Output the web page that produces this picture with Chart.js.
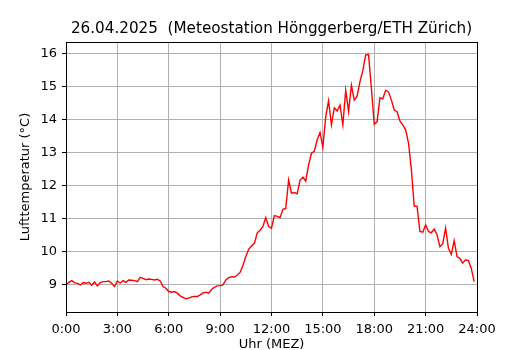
<!DOCTYPE html>
<html>
<head>
<meta charset="utf-8">
<script src="https://cdn.jsdelivr.net/npm/chart.js@4/dist/chart.umd.min.js"></script>
<style>
  body { margin: 0; background: #fff; }
  canvas { display: block; }
</style>
</head>
<body>
<canvas id="chart" width="530" height="350"></canvas>
<script>
// Temperatur alle 10 Minuten, 0:00 bis 23:50
const temps = [
  9.00, 9.08, 9.13, 9.07, 9.05, 9.00, 9.07, 9.05, 9.08, 8.99, 9.09, 8.97, 9.07, 9.10, 9.10, 9.12, 9.05, 8.95,
  9.12, 9.06, 9.13, 9.08, 9.15, 9.14, 9.13, 9.10, 9.23, 9.20, 9.16, 9.18, 9.17, 9.15, 9.17, 9.12, 8.95, 8.90,
  8.80, 8.78, 8.80, 8.75, 8.67, 8.62, 8.58, 8.60, 8.64, 8.65, 8.65, 8.70, 8.76, 8.78, 8.75, 8.86, 8.93, 8.97,
  8.98, 9.00, 9.15, 9.22, 9.25, 9.24, 9.30, 9.38, 9.60, 9.86, 10.08, 10.18, 10.26, 10.58, 10.66, 10.77, 11.04, 10.77,
  10.72, 11.10, 11.08, 11.04, 11.29, 11.32, 12.18, 11.78, 11.80, 11.76, 12.18, 12.26, 12.15, 12.64, 12.99, 13.05, 13.39, 13.62,
  13.17, 14.10, 14.58, 13.85, 14.37, 14.27, 14.45, 13.85, 14.90, 14.25, 15.05, 14.60, 14.72, 15.16, 15.50, 15.97, 15.98, 14.96,
  13.87, 13.95, 14.67, 14.64, 14.90, 14.85, 14.60, 14.30, 14.25, 13.97, 13.85, 13.70, 13.30, 12.50, 11.39, 11.38, 10.62, 10.60,
  10.82, 10.62, 10.58, 10.69, 10.52, 10.16, 10.25, 10.72, 10.11, 9.93, 10.34, 9.86, 9.80, 9.66, 9.76, 9.74, 9.50, 9.10
];
const xTicks = [0, 3, 6, 9, 12, 15, 18, 21, 24];
const yTicks = [9, 10, 11, 12, 13, 14, 15, 16];
const titleText = '26.04.2025  (Meteostation Hönggerberg/ETH Zürich)';
const xTitle = 'Uhr (MEZ)';
const yTitle = 'Lufttemperatur (°C)';

const points = temps.map((t, i) => ({ x: i / 6, y: t }));
const font = { family: 'DejaVu Sans', size: 13 };

// schwarzer Rahmen um die Plotfläche
const frame = {
  id: 'frame',
  afterDraw(c) {
    const a = c.chartArea;
    const ctx = c.ctx;
    ctx.save();
    ctx.strokeStyle = '#000';
    ctx.lineWidth = 1;
    ctx.strokeRect(Math.round(a.left) + 0.5, Math.round(a.top) + 0.5,
      Math.round(a.right - a.left), Math.round(a.bottom - a.top));
    ctx.restore();
  }
};

new Chart(document.getElementById('chart'), {
  type: 'line',
  data: {
    datasets: [{
      data: points,
      borderColor: '#ff0000',
      borderWidth: 1.4,
      pointRadius: 0,
      tension: 0
    }]
  },
  options: {
    responsive: false,
    animation: false,
    layout: { padding: { left: 0, right: 53, top: 0, bottom: 0 } },
    plugins: {
      legend: { display: false },
      tooltip: { enabled: false },
      title: {
        display: true,
        text: titleText,
        color: '#000',
        fullSize: false,
        font: { family: 'DejaVu Sans', size: 15.2, weight: 'normal' },
        padding: { top: 19.5, bottom: 4.3 }
      }
    },
    scales: {
      x: {
        type: 'linear',
        min: 0,
        max: 24,
        afterBuildTicks: s => { s.ticks = xTicks.map(v => ({ value: v })); },
        afterFit: s => { s.height = 38; },
        ticks: {
          color: '#000',
          font: font,
          padding: 6,
          maxRotation: 0,
          callback: v => v + ':00'
        },
        grid: { color: '#b0b0b0', lineWidth: 1, tickColor: '#000', tickLength: 4 },
        border: { color: '#000' },
        title: {
          display: true, text: xTitle, color: '#000',
          font: { family: 'DejaVu Sans', size: 13, lineHeight: 1 },
          padding: { top: 0, bottom: -1 }
        }
      },
      y: {
        min: 8.18,
        max: 16.36,
        afterBuildTicks: s => { s.ticks = yTicks.map(v => ({ value: v })); },
        afterFit: s => { s.width = 66; },
        ticks: { color: '#000', font: font, padding: 5 },
        grid: { color: '#b0b0b0', lineWidth: 1, tickColor: '#000', tickLength: 4 },
        border: { color: '#000' },
        title: { display: true, text: yTitle, color: '#000', font: font, padding: { top: 18 } }
      }
    }
  },
  plugins: [frame]
});
</script>
</body>
</html>
